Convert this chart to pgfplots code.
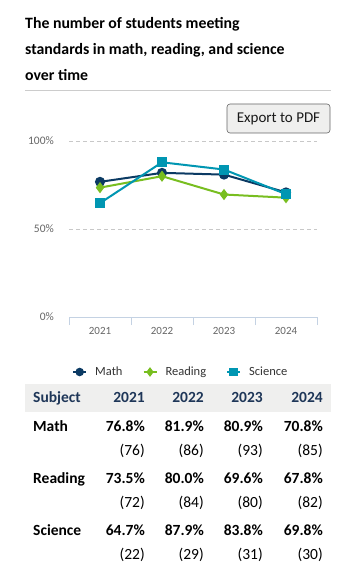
\documentclass[border=0pt]{standalone}
\usepackage{pgfplots}
\pgfplotsset{compat=1.18}
\usepackage{fontspec}
\setmainfont{Carlito}
\definecolor{mathc}{HTML}{0B3A63}
\definecolor{readc}{HTML}{78BE20}
\definecolor{scic}{HTML}{0096B2}
\definecolor{axisc}{HTML}{C4D2E3}
\definecolor{gridc}{HTML}{C8C8C8}
\definecolor{tickc}{HTML}{666666}
\definecolor{legc}{HTML}{333333}
\definecolor{bandc}{HTML}{EFEFEE}
\definecolor{headc}{HTML}{1E3658}
\begin{document}
\begin{tikzpicture}
\path[use as bounding box, fill=white] (0pt,0pt) rectangle (354pt,-588pt);
% title
\begin{scope}[every node/.style={anchor=base west, inner sep=0pt, font=\fontsize{15.8}{20}\selectfont\bfseries}]
\node at (25pt,-29pt) {The number of students meeting};
\node at (25pt,-55pt) {standards in math, reading, and science};
\node at (25pt,-81pt) {over time};
\end{scope}
\draw[color=gray!40, line width=0.8pt] (25pt,-90pt) -- (331pt,-90pt);
% export button
\draw[rounded corners=3pt, fill=bandc, draw=gray!80!black, line width=0.6pt] (227pt,-104pt) rectangle (330pt,-133pt);
\node[font=\fontsize{15}{18}\selectfont, text=black!90] at (278.5pt,-118.5pt) {Export to PDF};
\begin{axis}[
  at={(69pt,-317pt)}, anchor=south west,
  scale only axis, width=248pt, height=176pt,
  xmin=-0.5, xmax=3.5, ymin=0, ymax=100,
  xtick={0,1,2,3}, xticklabels={2021,2022,2023,2024},
  ytick={0,50,100}, yticklabels={0\%,50\%,100\%},
  major tick length=0pt,
  axis x line*=bottom, axis y line*=left,
  x axis line style={color=axisc, line width=1pt, -},
  y axis line style={draw=none},
  ymajorgrids, grid style={color=gridc, dash pattern=on 4pt off 3pt, line width=0.8pt},
  extra x ticks={-0.5,0.5,1.5,2.5,3.5}, extra x tick labels={},
  extra x tick style={grid=none, major tick length=8pt, tick align=outside, tick style={color=axisc, line width=1pt}},
  xticklabel style={font=\fontsize{11}{13}\selectfont, text=tickc, inner sep=0pt, yshift=-10pt},
  yticklabel style={font=\fontsize{11.5}{13}\selectfont, text=tickc, inner sep=0pt, xshift=-15pt},
  /pgf/number format/assume math mode=true,
  clip=false,
  legend columns=3,
  legend style={draw=none, fill=none, at={(0.0,-0.3125)}, anchor=west,
    font=\fontsize{12.5}{14}\selectfont, text=legc,
    nodes={inner sep=0pt},
    /tikz/every odd column/.append style={column sep=8pt},
    /tikz/every even column/.append style={column sep=20pt}},
  legend image code/.code={\draw[mark repeat=2,mark phase=2, mark size=3.2pt] plot coordinates {(0pt,0pt) (6.5pt,0pt) (13pt,0pt)};},
]
\addplot[color=mathc, line width=2pt, mark=*, mark size=4pt] coordinates {(0,76.8) (1,81.9) (2,80.9) (3,70.8)};
\addlegendentry{Math}
\addplot[color=readc, line width=2pt, mark=diamond*, mark size=4pt] coordinates {(0,73.5) (1,80.0) (2,69.6) (3,67.8)};
\addlegendentry{Reading}
\addplot[color=scic, line width=2pt, mark=square*, mark size=4pt] coordinates {(0,64.7) (1,87.9) (2,83.8) (3,69.8)};
\addlegendentry{Science}
\end{axis}
% table
\fill[bandc] (25pt,-384pt) rectangle (331pt,-412pt);
\begin{scope}[every node/.style={inner sep=0pt, font=\fontsize{15.5}{18}\selectfont}]
\node[anchor=base west, text=headc, font=\fontsize{15.5}{18}\selectfont\bfseries] at (33pt,-402pt) {Subject};
\foreach \x/\y in {145/2021,204/2022,263/2023,323/2024}
  \node[anchor=base east, text=headc, font=\fontsize{15.5}{18}\selectfont\bfseries] at (\x pt,-402pt) {\y};
\node[anchor=base west, font=\fontsize{15.5}{18}\selectfont\bfseries] at (33pt,-431pt) {Math};
\node[anchor=base west, font=\fontsize{15.5}{18}\selectfont\bfseries] at (33pt,-483pt) {Reading};
\node[anchor=base west, font=\fontsize{15.5}{18}\selectfont\bfseries] at (33pt,-535pt) {Science};
\foreach \x/\a/\b/\c in {145/76.8/73.5/64.7,204/81.9/80.0/87.9,263/80.9/69.6/83.8,323/70.8/67.8/69.8}{
  \node[anchor=base east, font=\fontsize{15.5}{18}\selectfont\bfseries] at (\x pt,-431pt) {\a\%};
  \node[anchor=base east, font=\fontsize{15.5}{18}\selectfont\bfseries] at (\x pt,-483pt) {\b\%};
  \node[anchor=base east, font=\fontsize{15.5}{18}\selectfont\bfseries] at (\x pt,-535pt) {\c\%};
}
\foreach \x/\a/\b/\c in {145/76/72/22,204/86/84/29,263/93/80/31,323/85/82/30}{
  \node[anchor=base east] at (\x pt,-455pt) {(\a)};
  \node[anchor=base east] at (\x pt,-507pt) {(\b)};
  \node[anchor=base east] at (\x pt,-559pt) {(\c)};
}
\end{scope}
\end{tikzpicture}
\end{document}
